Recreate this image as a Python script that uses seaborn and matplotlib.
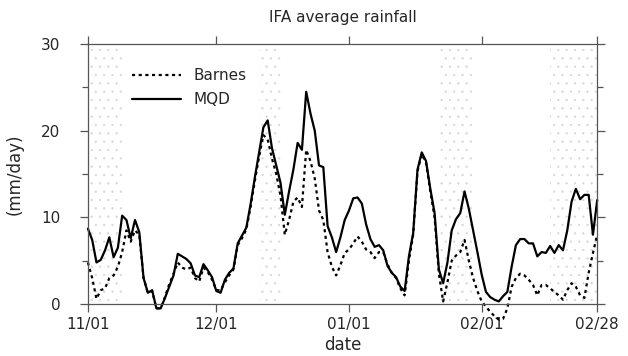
import numpy as np
import pandas as pd
import matplotlib
matplotlib.use("Agg")
import matplotlib.pyplot as plt
import matplotlib.dates as mdates
import seaborn as sns

start_date = "1992-11-01"
end_date = "1993-02-28"

mqd = [8.7, 7.4, 4.8, 5.1, 6.2, 7.7, 5.4, 6.5, 10.2, 9.7, 7.6, 9.7, 8.3, 3.0, 1.3, 1.6, -0.5, -0.5, 0.7, 2.0,
       3.3, 5.8, 5.5, 5.2, 4.7, 3.3, 3.1, 4.6, 3.9, 3.1,
       1.5, 1.3, 2.8, 3.6, 4.1, 7.0, 7.9, 8.8, 11.5, 14.6, 17.5, 20.4, 21.2, 18.0, 16.0, 14.0, 10.3, 13.0, 15.5, 18.6,
       17.8, 24.5, 22.0, 20.0, 16.0, 15.8, 9.0, 7.7, 6.0, 7.7,
       9.7, 10.8, 12.2, 12.3, 11.6, 9.2, 7.5, 6.6, 6.8, 6.2, 4.4, 3.6, 3.1, 2.0, 1.5, 5.5, 8.2, 15.5, 17.5, 16.5,
       13.3, 10.5, 4.0, 2.4, 4.8, 8.5, 9.8, 10.5, 13.0, 11.0,
       8.5, 6.0, 3.4, 1.4, 0.8, 0.5, 0.3, 0.9, 1.4, 4.3, 6.8, 7.5, 7.5, 7.0, 7.0, 5.5, 6.0, 5.9, 6.7, 5.9,
       6.8, 6.2, 8.5, 11.8, 13.3, 12.1, 12.6, 12.6, 8.0, 12.0]

barnes = [4.8, 3.0, 0.6, 1.6, 1.8, 3.0, 3.3, 4.3, 6.0, 8.5, 7.2, 8.5, 8.0, 3.0, 1.3, 1.5, -0.5, -0.5, 0.8, 2.3,
          3.5, 4.8, 4.2, 4.0, 4.2, 3.0, 2.6, 4.2, 3.7, 2.8,
          1.6, 1.6, 2.5, 3.3, 4.0, 6.8, 7.6, 8.6, 11.2, 14.2, 17.0, 19.5, 19.0, 16.8, 15.0, 12.5, 8.0, 9.7, 11.8, 12.3,
          11.2, 17.8, 16.5, 14.5, 10.8, 9.7, 6.0, 4.3, 3.3, 4.5,
          5.9, 6.3, 7.0, 7.8, 7.2, 6.3, 6.0, 5.3, 6.0, 6.0, 4.6, 3.6, 3.0, 1.8, 1.0, 5.0, 8.0, 15.3, 17.3, 16.3,
          13.0, 10.0, 3.5, 0.3, 2.5, 5.0, 5.6, 6.0, 7.4, 5.0,
          3.0, 1.5, 0.3, -0.3, -0.9, -1.4, -1.8, -1.7, -0.5, 2.0, 3.0, 3.5, 3.3, 2.8, 2.2, 1.0, 2.2, 2.2, 1.8, 1.4,
          1.0, 0.5, 1.6, 2.4, 2.0, 1.0, 0.7, 3.6, 5.9, 8.0]

band_starts = ["1992-11-01", "1992-12-11", "1993-01-22", "1993-02-17"]
band_ends = ["1992-11-09", "1992-12-16", "1993-01-30", "1993-02-28"]

tick_dates = ["1992-11-01", "1992-12-01", "1993-01-01", "1993-02-01", "1993-02-28"]
tick_labels = ["11/01", "12/01", "01/01", "02/01", "02/28"]
y_ticks = [0, 10, 20, 30]

dates = pd.date_range(start_date, end_date, freq="D")
df = pd.DataFrame({"date": np.concatenate([dates, dates]),
                   "rain": np.concatenate([barnes, mqd]),
                   "method": ["Barnes"] * len(dates) + ["MQD"] * len(dates)})

sns.set_style("ticks")
plt.rcParams["font.family"] = ["DejaVu Sans"]
plt.rcParams["hatch.linewidth"] = 0.4

fig = plt.figure(figsize=(6.28, 3.56), dpi=100)
ax = fig.add_axes([0.140, 0.146, 0.811, 0.730])

for s, e in zip(band_starts, band_ends):
    ax.axvspan(pd.Timestamp(s), pd.Timestamp(e), facecolor="none", edgecolor="#d6d6d6",
               hatch="..", linewidth=0, zorder=0)

sns.lineplot(data=df, x="date", y="rain", hue="method", style="method",
             palette={"Barnes": "black", "MQD": "black"},
             dashes={"Barnes": (1.4, 1.6), "MQD": ""},
             linewidth=1.6, ax=ax, legend=True)
for ln in ax.lines:
    ln.set_clip_on(False)

ax.set_xlim(pd.Timestamp(start_date), pd.Timestamp(end_date))
ax.set_ylim(0, 30)
ax.set_yticks(y_ticks)
ax.set_yticks([5, 15, 25], minor=True)
ax.set_xticks([mdates.date2num(pd.Timestamp(d)) for d in tick_dates])
ax.set_xticklabels(tick_labels)

for sp in ax.spines.values():
    sp.set_visible(True)
    sp.set_color("#555555")
    sp.set_linewidth(0.9)

ax.tick_params(axis="both", which="major", direction="out", length=6, width=0.9,
               color="#555555", labelsize=11, top=True, right=True)
ax.tick_params(axis="y", which="minor", direction="out", length=4, width=0.9,
               color="#555555", right=True, left=True)
ax.tick_params(axis="x", pad=3)
ax.tick_params(axis="y", pad=14)

ax.set_xlabel("date", fontsize=12, labelpad=3)
ax.set_ylabel("(mm/day)", fontsize=12, labelpad=12)
ax.set_title("IFA average rainfall", fontsize=11, pad=16)

leg = ax.legend(loc="upper left", bbox_to_anchor=(0.06, 0.96), frameon=False,
                fontsize=11, handlelength=3.2, handletextpad=0.8, labelspacing=0.6)
for h in leg.get_lines():
    h.set_linewidth(1.6)

fig.savefig("out.png", dpi=100)
